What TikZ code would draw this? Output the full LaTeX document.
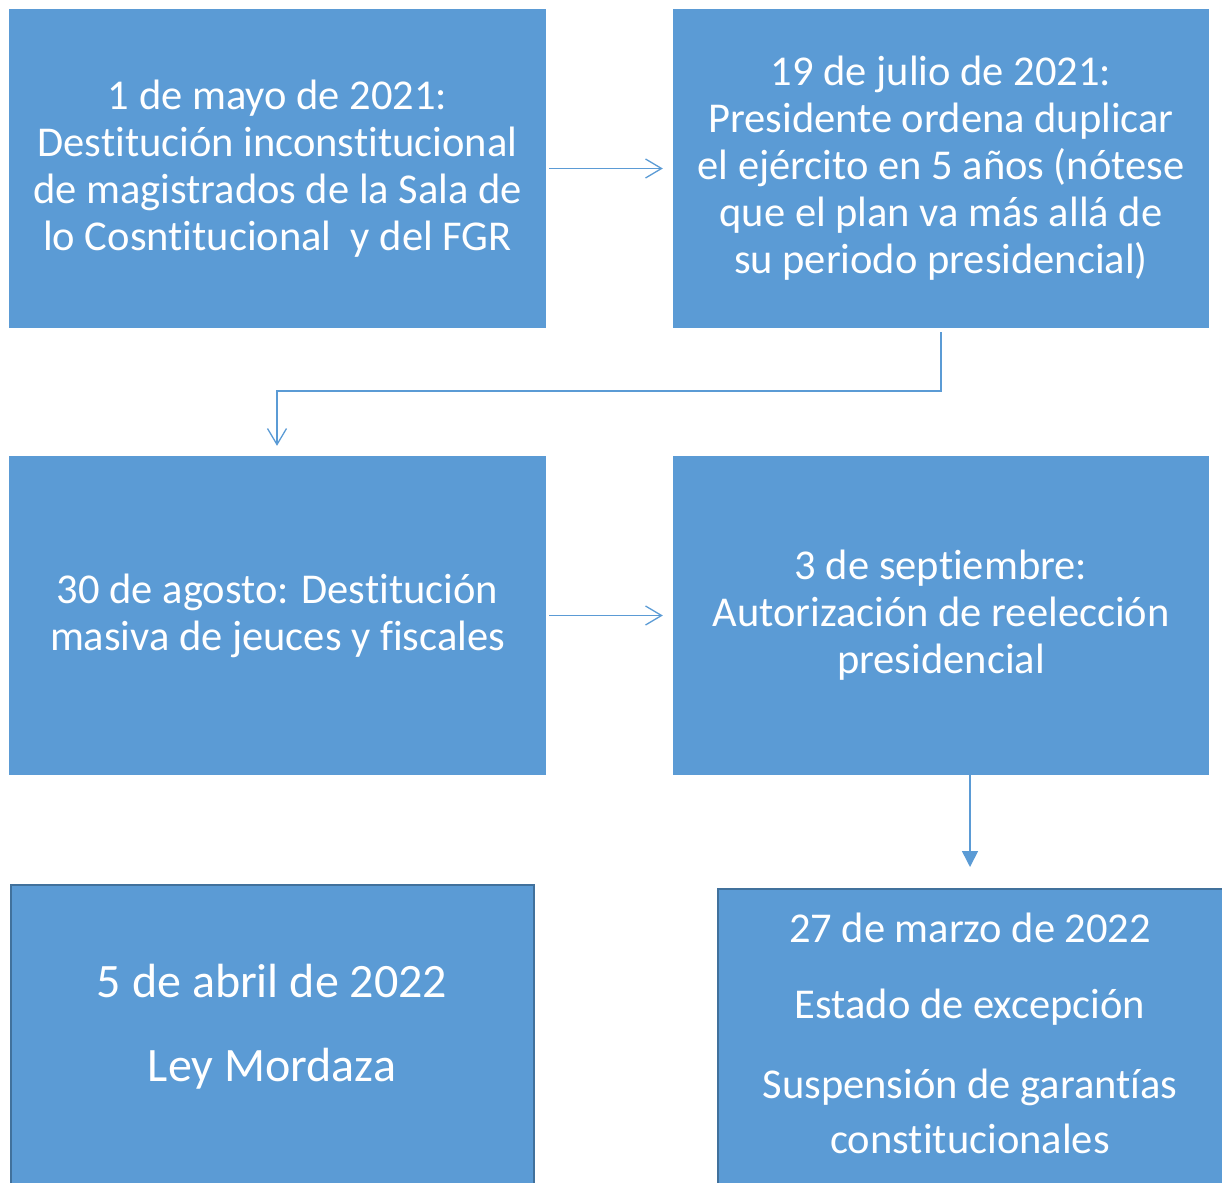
\documentclass[tikz,border=0pt]{standalone}
\usepackage{fontspec}
\setmainfont{Carlito}[Ligatures=NoCommon]
\usetikzlibrary{arrows.meta}
\definecolor{boxblue}{HTML}{5B9BD5}
\definecolor{edgeblue}{HTML}{41719C}
\tikzset{
  evbox/.style={rectangle, fill=boxblue, draw=none, inner sep=0pt, text=white, align=center,
    font=\fontsize{42.5}{47}\selectfont},
  lowbox/.style={rectangle, fill=boxblue, draw=edgeblue, line width=2pt, inner sep=0pt},
  lowtext/.style={text=white, align=center, inner sep=0pt, font=\fontsize{42.5}{55}\selectfont},
  bigtext/.style={text=white, align=center, inner sep=0pt, font=\fontsize{48}{55}\selectfont},
  openarr/.style={draw=boxblue, line width=1.3pt, -{Straight Barb[length=16pt,width=19pt,line width=1.3pt]}},
  fillarr/.style={draw=boxblue, line width=1.6pt, -{Triangle[length=16pt,width=16pt]}}
}
\begin{document}
\begin{tikzpicture}[x=1pt,y=-1pt]
\useasboundingbox (0,0) rectangle (1222,1182);
\begin{scope}
\clip (0,0) rectangle (1222,1182);
\node[evbox, minimum width=537pt, minimum height=319pt] (a) at (277.5,168.5)
  {1 de mayo de 2021:\\ Destitución inconstitucional\\ de magistrados de la Sala de\\ lo Cosntitucional\ \ y del FGR};
\node[evbox, minimum width=536pt, minimum height=319pt] (b) at (941,168.5)
  {19 de julio de 2021:\\ Presidente ordena duplicar\\ el ejército en 5 años (nótese\\ que el plan va más allá de\\ su periodo presidencial)};
\node[evbox, minimum width=537pt, minimum height=319pt] (c) at (277.5,615.5)
  {30 de agosto: Destitución\\ masiva de jeuces y fiscales};
\node[evbox, minimum width=536pt, minimum height=319pt] (d) at (941,615.5)
  {3 de septiembre:\\ Autorización de reelección\\ presidencial};
\node[lowbox, minimum width=523pt, minimum height=360pt] (e) at (272.5,1065) {};
\node[lowbox, minimum width=540pt, minimum height=360pt] (f) at (988,1069) {};
\node[bigtext, anchor=base] (e1) at (272,997) {5 de abril de 2022};
\node[bigtext, anchor=base] (e2) at (272,1081) {Ley Mordaza};
\node[lowtext, anchor=base] (f1) at (970,942) {27 de marzo de 2022};
\node[lowtext, anchor=base] (f2) at (970,1018) {Estado de excepción};
\node[lowtext, anchor=base] (f3) at (970,1098) {Suspensión de garantías};
\node[lowtext, anchor=base] (f4) at (970,1153) {constitucionales};
\end{scope}
\coordinate (bend1) at (941,391);
\coordinate (bend2) at (277,391);
\draw[openarr] ([xshift=3pt]a.east) -- ([xshift=-10pt]b.west);
\draw[openarr] ([yshift=-4pt]b.south) -- (bend1) -- (bend2) -- ([yshift=10pt]c.north -| bend2);
\draw[openarr] ([xshift=3pt]c.east) -- ([xshift=-10pt]d.west);
\draw[fillarr] (d.south -| 970,0) -- (970,867);
\end{tikzpicture}
\end{document}
